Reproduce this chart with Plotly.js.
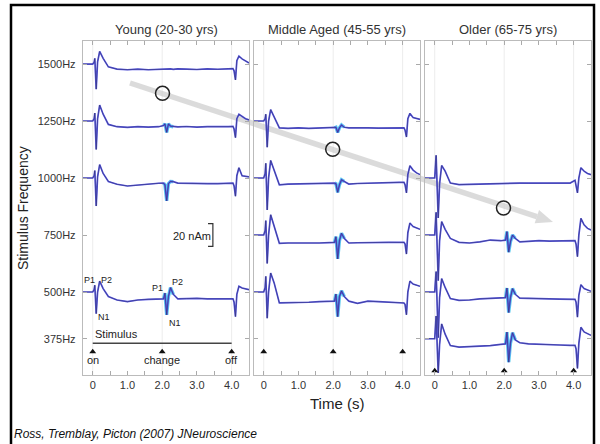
<!DOCTYPE html>
<html><head><meta charset="utf-8">
<script src="https://cdn.plot.ly/plotly-3.0.1.min.js"></script>
<style>html,body{margin:0;padding:0;background:#fff}#chart{width:600px;height:444px}</style>
</head><body><div id="chart"></div>
<script>
// ---------------- data ----------------
const panelTitles = ['Young (20-30 yrs)', 'Middle Aged (45-55 yrs)', 'Older (65-75 yrs)'];
const freqLabels = ['375Hz', '500Hz', '750Hz', '1000Hz', '1250Hz', '1500Hz'];
const rowOffsets = [-41, 0, 50, 100, 150, 200];          // nAm offset of each frequency row
const xTickVals = [0, 0.5, 1, 1.5, 2, 2.5, 3, 3.5, 4];
const xTickLabels = ['0', '', '1.0', '', '2.0', '', '3.0', '', '4.0'];
const stimEventTimes = [0, 2, 4];
const stimEventLabels = ['on', 'change', 'off'];

// time (s) of the sampled points of each waveform
const time = [-0.28, -0.1, 0, 0.04, 0.06, 0.1, 0.14, 0.2, 0.3, 0.45, 0.7, 1.0, 1.3, 1.6, 1.9,
  2.04, 2.08, 2.13, 2.18, 2.24, 2.32, 2.45, 2.7, 3.0, 3.3, 3.6, 3.9,
  4.04, 4.07, 4.11, 4.15, 4.21, 4.3, 4.4, 4.5];

// source waveforms (nAm, relative to the row baseline)
const young1500 = [0, 0.3, 0, 1.5, 5, -22, 2, 11, 5, -2.5, -4.5, -5, -4.5, -5, -4.5,
  -4.3, -4.5, -4.2, -4.5, -4.3, -4.6, -4.2, -4.5, -4.8, -4.3, -4.6, -4.2,
  -4, -6, -14, 3, 7, 4.5, 2.5, 1];
const young1250 = [0, -0.3, 0, 2, 7, -25, 2, 14, 6, -3, -5, -5.5, -5, -5.3, -5,
  -4, -2.5, -10, -2.5, -4.5, -5, -5.2, -4.8, -5.3, -5, -5.2, -5,
  -4.8, -7, -14.6, 2, 6, 4, 2, 1];
const young1000 = [0, 0.3, 0, 2, 6.6, -24.6, 1, 11.7, 4, -3, -5.5, -7, -6, -5.3, -4.6,
  -4.5, -6, -20, -5, -3, -3.2, -4.5, -4.8, -4.5, -5, -5, -4.6,
  -4.5, -7, -16, 2, 9, 2, 1.5, 1];
const young500 = [0, 0.2, 0, 2, 6, -19, 0, 9.6, 3, -4, -7, -8.5, -7, -6.4, -6.4,
  -6, -1, -20, -4, 3.8, -2, -6, -5.8, -5.5, -6, -6.2, -6.4,
  -6, -9, -21.6, -2, 5, 3.5, 2.5, 2];
const middle1250 = [0, 0.3, 0, 2, 6, -23, 0, 10, 3, -6, -6.4, -6, -6.5, -6.2, -6,
  -6, -5.5, -10, -6, -3.5, -5.5, -6, -6.3, -6, -6.2, -6, -6,
  -6, -8, -14, 2, 6.7, 3, 2, 1.5];
const middle1000 = [0, -0.3, 0, 4, 13, -28, 0, 15.4, 7, -6, -5.3, -5, -5.2, -4.4, -4.5,
  -4.5, -5, -12.6, -6, -1.5, -3, -5.3, -4.8, -4.4, -4.6, -4, -3.8,
  -3.8, -6, -13, 3, 10.8, 7, 4.5, 3];
const middle750 = [0, 0.3, 0, 4, 12.6, -25, 0, 17.8, 8, -7.3, -7, -7.2, -6.8, -7, -6.6,
  -6.5, -1.5, -21, -5, 1.5, -3, -7, -6.8, -6.5, -6.6, -6.4, -6.5,
  -6.5, -8, -16.7, 2, 10.5, 7.5, 6, 5];
const middle500 = [0, -0.3, 0, 4, 13.7, -23, 0, 16.7, 8, -9.6, -9.6, -9.3, -9, -8.5, -8,
  -8, -1.8, -21.6, -4, 1, -4, -8, -10, -8, -8.5, -9, -9.6,
  -9.6, -11, -20, 0, 9.6, 7, 6, 5];
const older1000 = [0, 0.3, 0, 20, 2, -35, -5, 11, 6, -4.4, -5.8, -5.5, -5.3, -5, -5,
  -4.8, -4.5, -4.6, -4.5, -4.4, -4.6, -4.4, -4.5, -4.4, -4.6, -4.3, -4.4,
  -2, -6, -13, 0, 9, 6, 4, 3];
const older750 = [0, -0.3, 0, 20, 2, -40, -5, 11.7, 5, -3, -6.4, -7, -6, -4.4, -5,
  -4.5, 3, -15, -6, 0, -3, -6, -5.5, -5, -5.3, -5.2, -5,
  -5, -8, -19, 0, 14.6, 9, 5.8, 4.4];
const older500 = [0, 0.3, 0, 18, 2, -40, -5, 11.7, 4, -5.8, -7.3, -7, -6, -5.8, -5.3,
  -5, 3.5, -18, -5, 3, -2, -5.3, -5.5, -5.5, -6, -6.2, -6.4,
  -6.4, -9, -22, -3, 6.4, 3, 1.5, 0.6];
const older375 = [0, -0.3, 0, 20, 2, -30, -5, 13, 4, -6, -7.3, -7, -6.4, -6, -5,
  -4.5, 5.8, -20.5, -4, 5.3, -1, -3.5, -4.5, -5, -5.3, -5.5, -5.8,
  -5.8, -9, -26, -4, 10, 6, 4.4, 3];

// which rows each panel shows: [frequency label, waveform, has change response]
const panels = [
  [['1500Hz', young1500, false], ['1250Hz', young1250, true], ['1000Hz', young1000, true], ['500Hz', young500, true]],
  [['1250Hz', middle1250, true], ['1000Hz', middle1000, true], ['750Hz', middle750, true], ['500Hz', middle500, true]],
  [['1000Hz', older1000, false], ['750Hz', older750, true], ['500Hz', older500, true], ['375Hz', older375, true]]
];

// ---------------- geometry helpers ----------------
const W = 600, H = 444, L = 83, R = 591, TOP = 41, BOT = 375;
const px = p => (p - L) / (R - L);
const py = p => (BOT - p) / (BOT - TOP);
const domains = [[px(83), px(249)], [px(254), px(420)], [px(425), px(591)]];
const yRange = [-72.8, 220.2];
const xRange = [-0.28, 4.5];
const secPx = 166 / (xRange[1] - xRange[0]);

const traces = [];
panels.forEach((rows, pi) => {
  const xa = pi === 0 ? 'x' : 'x' + (pi + 1);
  const ya = pi === 0 ? 'y' : 'y' + (pi + 1);
  rows.forEach(([lab, wave, hasChange]) => {
    const off = rowOffsets[freqLabels.indexOf(lab)];
    const yv = wave.map(v => v + off);
    if (hasChange) {
      const i0 = time.indexOf(2.04), i1 = time.indexOf(2.32);
      traces.push({ x: time.slice(i0, i1 + 1), y: yv.slice(i0, i1 + 1), xaxis: xa, yaxis: ya,
        mode: 'lines', line: { color: 'rgba(50,190,235,0.8)', width: 3.4 }, hoverinfo: 'skip' });
    }
    traces.push({ x: time, y: yv, xaxis: xa, yaxis: ya, mode: 'lines',
      line: { color: 'rgb(86,86,230)', width: 1.7 }, hoverinfo: 'skip' });
    traces.push({ x: time, y: yv, xaxis: xa, yaxis: ya, mode: 'lines',
      line: { color: 'rgba(45,45,80,0.6)', width: 0.8 }, hoverinfo: 'skip' });
  });
  // stimulus event markers
  const my = pi === 2 ? -69 : -52.4;
  traces.push({ x: stimEventTimes, y: stimEventTimes.map(() => my), xaxis: xa, yaxis: ya,
    mode: 'markers', marker: { symbol: 'triangle-up', size: 6, color: '#111' }, hoverinfo: 'skip' });
});

const axisFont = { family: 'Liberation Sans, Arial, sans-serif', size: 11, color: '#333' };
const layout = {
  width: W, height: H, showlegend: false,
  paper_bgcolor: '#fff', plot_bgcolor: '#fff',
  margin: { l: L, r: W - R, t: TOP, b: H - BOT, pad: 0 },
  font: { family: 'Liberation Sans, Arial, sans-serif', color: '#333' },
  shapes: [], annotations: []
};
for (let pi = 0; pi < 3; pi++) {
  const s = pi === 0 ? '' : String(pi + 1);
  layout['xaxis' + s] = {
    domain: domains[pi], range: xRange, anchor: 'y' + s, showgrid: false, zeroline: false,
    showline: true, mirror: 'ticks', linecolor: '#bbbbbb', linewidth: 1.2,
    ticks: 'inside', ticklen: 4, tickcolor: '#aaa', tickvals: xTickVals, ticktext: xTickLabels,
    tickfont: axisFont, fixedrange: true
  };
  layout['yaxis' + s] = {
    domain: [0, 1], range: yRange, anchor: 'x' + s, showgrid: false, zeroline: false,
    showline: true, mirror: 'ticks', linecolor: '#bbbbbb', linewidth: 1.2,
    ticks: 'inside', ticklen: 4, tickcolor: '#aaa', tickvals: rowOffsets, ticktext: freqLabels,
    showticklabels: pi === 0, tickfont: axisFont, ticklabelstandoff: 4, fixedrange: true
  };
  // faint grid lines at 0, 2, 4 s
  [0, 2, 4].forEach(t => layout.shapes.push({ type: 'line', xref: 'x' + s, yref: 'paper',
    x0: t, x1: t, y0: 0, y1: 1, layer: 'below', line: { color: '#ececec', width: 1 } }));
  layout.annotations.push({ text: panelTitles[pi], xref: 'paper', yref: 'paper',
    x: (domains[pi][0] + domains[pi][1]) / 2, y: py(30), xanchor: 'center', yanchor: 'middle',
    showarrow: false, font: { size: 13, color: '#333' } });
}

// outer black frame
layout.shapes.push({ type: 'rect', xref: 'paper', yref: 'paper',
  x0: px(11), x1: px(594), y0: py(447), y1: py(5), line: { color: '#000', width: 2.5 } });

// grey trend arrow
const A0 = [130, 83], TIP = [553, 222];
const dx = TIP[0] - A0[0], dy = TIP[1] - A0[1], len = Math.hypot(dx, dy);
const ux = dx / len, uy = dy / len, nx = -uy, ny = ux;
const B = [TIP[0] - 17 * ux, TIP[1] - 17 * uy];
layout.shapes.push({ type: 'line', xref: 'paper', yref: 'paper', layer: 'below',
  x0: px(A0[0]), y0: py(A0[1]), x1: px(B[0]), y1: py(B[1]),
  line: { color: 'rgba(200,200,200,0.65)', width: 5.5 } });
const c1 = [B[0] + 7 * nx, B[1] + 7 * ny], c2 = [B[0] - 7 * nx, B[1] - 7 * ny];
layout.shapes.push({ type: 'path', xref: 'paper', yref: 'paper', layer: 'below',
  path: `M ${px(TIP[0])} ${py(TIP[1])} L ${px(c1[0])} ${py(c1[1])} L ${px(c2[0])} ${py(c2[1])} Z`,
  fillcolor: 'rgba(200,200,200,0.65)', line: { width: 0 } });

// circles at the change responses
[[162.5, 93.3], [332.7, 149.3], [503.5, 208]].forEach(([cx, cy]) => {
  const r = 7;
  layout.shapes.push({ type: 'circle', xref: 'paper', yref: 'paper',
    x0: px(cx - r), x1: px(cx + r), y0: py(cy + r), y1: py(cy - r),
    line: { color: '#222', width: 1.5 } });
});

// 20 nAm scale bar (young panel, data units)
const sbx = 3.46, sbTick = 0.14;
layout.shapes.push({ type: 'path', xref: 'x', yref: 'y',
  path: `M ${sbx - sbTick} 60 L ${sbx} 60 L ${sbx} 40 L ${sbx - sbTick} 40`,
  line: { color: '#333', width: 1.2 } });
// stimulus bar
layout.shapes.push({ type: 'line', xref: 'x', yref: 'y', x0: 0, x1: 4, y0: -45, y1: -45,
  line: { color: '#444', width: 1.5 } });

const txt = (t, x, y, size, anchor = 'center', extra = {}) => layout.annotations.push(Object.assign({
  text: t, xref: 'paper', yref: 'paper', x: px(x), y: py(y), xanchor: anchor, yanchor: 'middle',
  showarrow: false, font: { size: size, color: '#222' } }, extra));

txt('20 nAm', 191.5, 235.7, 11);
txt('P1', 89.5, 280, 9); txt('P2', 106.5, 280, 9); txt('N1', 104, 317, 9);
txt('P1', 157.5, 288, 9); txt('P2', 177.5, 282, 9); txt('N1', 174.5, 322.7, 9);
txt('Stimulus', 93, 334, 11, 'left');
stimEventLabels.forEach((lab, i) => txt(lab, 83 + (stimEventTimes[i] - xRange[0]) * secPx, 359.5, 11));
txt('Stimulus Frequency', 23, 208, 14, 'center', { textangle: -90 });
txt('Time (s)', 337, 403, 15);
txt('Ross, Tremblay, Picton (2007) JNeuroscience', 12, 434.5, 12, 'left',
  { font: { size: 12, color: '#111', family: 'Liberation Sans, Arial, sans-serif', style: 'italic' } });

Plotly.newPlot('chart', traces, layout, { staticPlot: true, displayModeBar: false });
</script>
</body></html>
